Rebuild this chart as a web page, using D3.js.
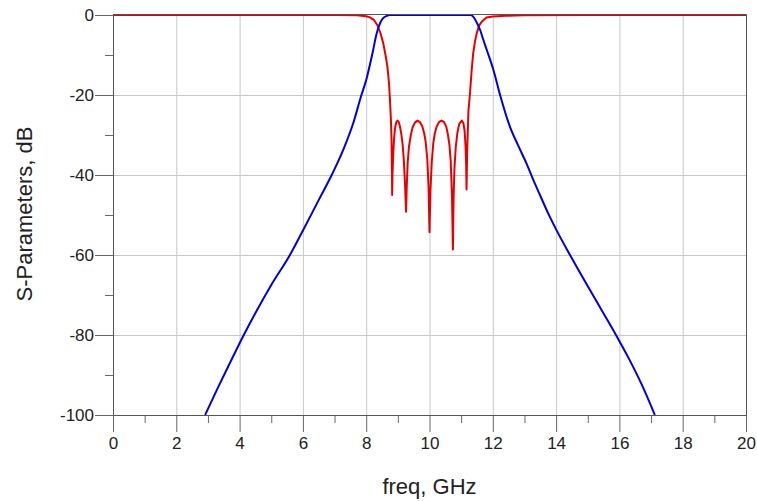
<!DOCTYPE html>
<html>
<head>
<meta charset="utf-8">
<script src="https://cdn.jsdelivr.net/npm/d3@7"></script>
<style>
  html, body { margin: 0; padding: 0; background: #fff; }
  svg { display: block; font-family: Arial, "Liberation Sans", sans-serif; }
</style>
</head>
<body>
<svg id="chart" width="757" height="501"></svg>
<script>
// ---- data ----
const xTicks = [0, 2, 4, 6, 8, 10, 12, 14, 16, 18, 20];
const xMinorTicks = [1, 3, 5, 7, 9, 11, 13, 15, 17, 19];
const yTicks = [0, -20, -40, -60, -80, -100];
const yMinorTicks = [-10, -30, -50, -70, -90];

// S21 (blue): [freq GHz, dB]
const s21 = [
  [2.91, -100], [3.3, -93.4], [3.7, -86.9], [4.12, -80.2], [4.5, -74.5], [5.0, -67.5],
  [5.59, -60.0], [6.01, -53.75], [6.49, -46.4], [6.91, -40.0],
  [7.3, -33.2], [7.6, -26.8], [7.83, -20.5], [8.0, -16.25], [8.2, -9.5], [8.33, -4.6],
  [8.42, -2.4], [8.49, -1.25], [8.58, -0.5], [8.65, -0.2], [8.75, 0], [11.3, 0],
  [11.38, -0.4], [11.5, -2.0], [11.6, -3.75], [11.7, -6.2], [11.81, -8.75], [12.02, -13.75],
  [12.23, -20.0], [12.54, -27.9], [12.8, -32.6], [13.07, -37.2], [13.3, -41.6], [13.49, -45.0],
  [13.75, -49.6], [14.02, -53.9], [14.44, -60.0], [15.07, -68.75], [15.5, -74.6],
  [15.9, -80.1], [16.3, -85.9], [16.7, -92.3], [17.12, -100]
];

// S11 (red): [freq GHz, dB]
const s11 = [
  [0, 0], [7.0, -0.02], [7.7, -0.05], [8.0, -0.3], [8.12, -0.6], [8.25, -1.3], [8.35, -2.5],
  [8.45, -4.5], [8.54, -7.1], [8.61, -10.0], [8.67, -12.9], [8.72, -17.0], [8.75, -21.0],
  [8.78, -26.0], [8.80, -31.0], [8.815, -40.0], [8.82, -45.0], [8.83, -40.0], [8.85, -35.5],
  [8.88, -31.0], [8.91, -28.3], [8.95, -26.8], [8.99, -26.4], [9.03, -26.8], [9.07, -28.0],
  [9.11, -29.8], [9.15, -32.3], [9.19, -36.5], [9.23, -43.0], [9.26, -49.2], [9.28, -43.0],
  [9.31, -37.0], [9.35, -33.0], [9.41, -30.0], [9.47, -28.0], [9.54, -26.9], [9.62, -26.4],
  [9.7, -26.8], [9.77, -27.8], [9.83, -29.5], [9.88, -31.8], [9.93, -36.0], [9.97, -43.0],
  [10.0, -54.3], [10.03, -44.0], [10.07, -37.0], [10.12, -32.0], [10.17, -29.5], [10.23, -27.8],
  [10.3, -26.8], [10.38, -26.4], [10.46, -26.8], [10.53, -27.9], [10.58, -29.8], [10.63, -32.5],
  [10.67, -36.5], [10.71, -45.0], [10.74, -58.6], [10.76, -46.0], [10.79, -38.0], [10.83, -33.0],
  [10.88, -29.5], [10.94, -27.2], [11.02, -26.4], [11.07, -27.0], [11.11, -29.0], [11.14, -33.0],
  [11.16, -38.0], [11.17, -43.6], [11.19, -34.0], [11.23, -24.0], [11.28, -19.5], [11.33, -14.0],
  [11.38, -9.6], [11.44, -6.5], [11.49, -4.6], [11.57, -2.6], [11.65, -1.7], [11.8, -0.6],
  [12.0, -0.35], [12.4, -0.2], [13.0, -0.08], [15.0, -0.02], [20, 0]
];

// ---- layout ----
const svg = d3.select("#chart");
const L = 113, R = 746, T = 15, B = 415;
const x = d3.scaleLinear().domain([0, 20]).range([L, R]);
const y = d3.scaleLinear().domain([-100, 0]).range([B, T]);

const gridColor = "#c8c8c8";
const axisColor = "#555";
const fmt = d => String(d);

// grid
svg.append("g").selectAll("line")
  .data(xTicks.filter(d => d > 0 && d < 20)).join("line")
  .attr("x1", d => x(d) + 0.5).attr("x2", d => x(d) + 0.5)
  .attr("y1", T).attr("y2", B)
  .attr("stroke", gridColor).attr("stroke-width", 1);
svg.append("g").selectAll("line")
  .data(yTicks.filter(d => d < 0 && d > -100)).join("line")
  .attr("x1", L).attr("x2", R)
  .attr("y1", d => y(d) + 0.5).attr("y2", d => y(d) + 0.5)
  .attr("stroke", gridColor).attr("stroke-width", 1);

// axes
const xAxis = d3.axisBottom(x).tickValues(xTicks).tickSize(17).tickPadding(5).tickFormat(fmt);
const xAxisMinor = d3.axisBottom(x).tickValues(xMinorTicks).tickSize(8).tickFormat("");
const yAxis = d3.axisLeft(y).tickValues(yTicks).tickSize(18).tickPadding(1).tickFormat(fmt);
const yAxisMinor = d3.axisLeft(y).tickValues(yMinorTicks).tickSize(8).tickFormat("");

function styleAxis(g) {
  g.select(".domain").remove();
  g.selectAll(".tick line").attr("stroke", "#666").attr("stroke-width", 1);
  g.selectAll(".tick text").attr("fill", "#222").style("font-size", "17px")
    .style("font-family", "Arial, 'Liberation Sans', sans-serif");
}

svg.append("g").attr("transform", `translate(0,${B})`).call(xAxis).call(styleAxis);
svg.append("g").attr("transform", `translate(0,${B})`).call(xAxisMinor).call(styleAxis);
svg.append("g").attr("transform", `translate(${L},0)`).call(yAxis).call(styleAxis);
svg.append("g").attr("transform", `translate(${L},0)`).call(yAxisMinor).call(styleAxis);

// clip
svg.append("clipPath").attr("id", "clip").append("rect")
  .attr("x", L).attr("y", T - 2).attr("width", R - L).attr("height", B - T + 2);

const lineSharp = d3.line().x(d => x(d[0])).y(d => y(d[1])).curve(d3.curveLinear);
const lineSmooth = d3.line().x(d => x(d[0])).y(d => y(d[1])).curve(d3.curveMonotoneX);

const curves = svg.append("g").attr("clip-path", "url(#clip)");
curves.append("path").datum(s11).attr("d", lineSharp)
  .attr("fill", "none").attr("stroke", "#e80000").attr("stroke-width", 2).attr("stroke-linejoin", "round");
curves.append("path").datum(s21).attr("d", lineSmooth)
  .attr("fill", "none").attr("stroke", "#0000d8").attr("stroke-width", 2).attr("stroke-linejoin", "round");

// frame
svg.append("path")
  .attr("d", `M${L + 0.5},${B + 0.5} V${T - 0.5} H${R + 0.5} V${B + 0.5} H${L + 0.5}`)
  .attr("fill", "none").attr("stroke", axisColor).attr("stroke-width", 1);

// axis titles
svg.append("text").attr("x", (L + R) / 2).attr("y", 494)
  .attr("text-anchor", "middle").attr("fill", "#222").style("font-size", "22px")
  .text("freq, GHz");
svg.append("text").attr("transform", `translate(32,${(T + B) / 2 - 1}) rotate(-90)`)
  .attr("text-anchor", "middle").attr("fill", "#222").style("font-size", "22px")
  .text("S-Parameters, dB");
</script>
</body>
</html>
